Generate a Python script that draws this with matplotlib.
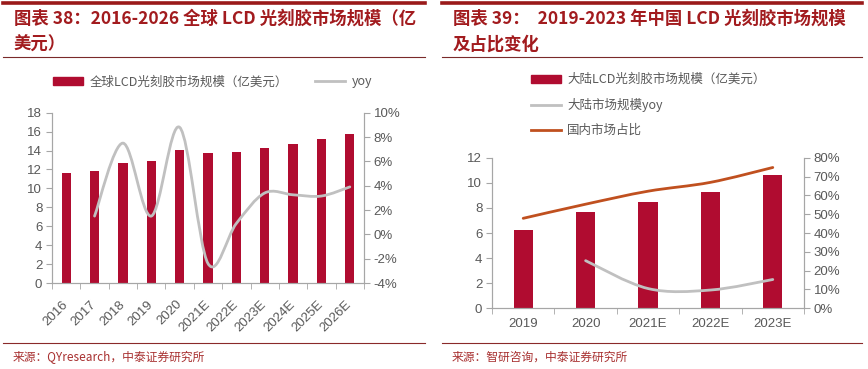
import numpy as np
import matplotlib
matplotlib.use("Agg")
import matplotlib.pyplot as plt
from matplotlib.path import Path
from matplotlib.patches import PathPatch, Rectangle
from matplotlib.lines import Line2D
from matplotlib.ticker import FuncFormatter

plt.rcParams['font.family'] = ['Noto Sans CJK SC', 'DejaVu Sans']

# ============== data ==============
years_global = ['2016', '2017', '2018', '2019', '2020', '2021E', '2022E',
                '2023E', '2024E', '2025E', '2026E']
market_global = [11.6, 11.8, 12.7, 12.9, 14.05, 13.7, 13.8, 14.3, 14.7, 15.2, 15.8]
yoy_global = [np.nan, 1.5, 7.5, 1.5, 8.8, -2.4, 0.9, 3.4, 3.25, 3.15, 3.9]   # %

years_cn = ['2019', '2020', '2021E', '2022E', '2023E']
market_cn = [6.2, 7.7, 8.47, 9.24, 10.62]
yoy_cn = [np.nan, 25.3, 10.5, 9.7, 15.3]     # %
share_cn = [47.8, 55.3, 62.2, 66.9, 74.8]    # %

# ============== style ==============
BAR = '#B00C30'
GRAY = '#C0C0C0'
ORANGE = '#C0501F'
DARKRED = '#A21B1E'
TICK = '#595959'
AXIS = '#A6A6A6'
W, H = 868, 369


def fx(px):
    return px / W


def fy(py):
    return 1 - py / H


def smooth_line(ax, x, y, color, lw):
    # Excel-like smoothed line (Catmull-Rom via cubic Bezier)
    pts = [(xi, yi) for xi, yi in zip(x, y) if not np.isnan(yi)]
    p = np.array(pts, dtype=float)
    n = len(p)
    verts = [p[0]]
    codes = [Path.MOVETO]
    for i in range(n - 1):
        p0 = p[i - 1] if i > 0 else p[i]
        p3 = p[i + 2] if i + 2 < n else p[i + 1]
        c1 = p[i] + (p[i + 1] - p0) / 6
        c2 = p[i + 1] - (p3 - p[i]) / 6
        verts += [c1, c2, p[i + 1]]
        codes += [Path.CURVE4] * 3
    patch = PathPatch(Path(verts, codes), facecolor='none', edgecolor=color,
                      lw=lw, capstyle='round', joinstyle='round')
    ax.add_patch(patch)


def style_axes(ax, ax2, n):
    for a in (ax, ax2):
        a.spines['top'].set_visible(False)
        for s in ('left', 'right', 'bottom'):
            a.spines[s].set_color(AXIS)
            a.spines[s].set_linewidth(0.8)
    ax.set_xlim(-0.5, n - 0.5)
    ax.tick_params(axis='y', direction='out', length=4, color=AXIS,
                   labelsize=9.5, labelcolor=TICK, pad=3)
    ax2.tick_params(axis='y', direction='out', length=4, color=AXIS,
                    labelsize=9.5, labelcolor=TICK, pad=3)
    ax.set_xticks(np.arange(-0.5, n, 1.0), minor=True)
    ax.tick_params(axis='x', which='minor', direction='out', length=4, color=AXIS)
    ax.tick_params(axis='x', which='major', length=0, labelsize=9.5, labelcolor=TICK)
    for lab in ax.get_yticklabels() + ax2.get_yticklabels():
        lab.set_family('Liberation Sans')


fig = plt.figure(figsize=(W / 100, H / 100), dpi=100)

# ============== left panel ==============
ax1 = fig.add_axes([fx(52), fy(283), fx(364 - 52), fy(112.7) - fy(283)])
x1 = np.arange(len(years_global))
ax1.bar(x1, market_global, width=0.33, color=BAR, zorder=2)
ax1.set_ylim(0, 18)
ax1.set_yticks(np.arange(0, 19, 2))
ax1b = ax1.twinx()
ax1b.set_ylim(-4, 10)
ax1b.set_yticks(np.arange(-4, 11, 2))
ax1b.yaxis.set_major_formatter(FuncFormatter(lambda v, p: f'{v:.0f}%'))
smooth_line(ax1b, x1, yoy_global, GRAY, 2.0)
style_axes(ax1, ax1b, len(years_global))
ax1.set_xticks(x1)
ax1.set_xticklabels(years_global, rotation=45, ha='right', va='center',
                    rotation_mode='anchor', family='Liberation Sans')
ax1.tick_params(axis='x', which='major', pad=14)

h_bar1 = Rectangle((0, 0), 1, 1, color=BAR)
h_gray = Line2D([], [], color=GRAY, lw=2.0)
fig.legend([h_bar1, h_gray], ['全球LCD光刻胶市场规模（亿美元）', 'yoy'],
           loc='center left', bbox_to_anchor=(fx(53), fy(82)), ncol=2,
           frameon=False, fontsize=9, handlelength=2.4, handleheight=0.6,
           handletextpad=0.5, columnspacing=2.2, borderpad=0, borderaxespad=0,
           labelcolor=TICK)

# ============== right panel ==============
ax2 = fig.add_axes([fx(492), fy(308.3), fx(804 - 492), fy(157.7) - fy(308.3)])
x2 = np.arange(len(years_cn))
ax2.bar(x2, market_cn, width=0.31, color=BAR, zorder=2)
ax2.set_ylim(0, 12)
ax2.set_yticks(np.arange(0, 13, 2))
ax2b = ax2.twinx()
ax2b.set_ylim(0, 80)
ax2b.set_yticks(np.arange(0, 81, 10))
ax2b.yaxis.set_major_formatter(FuncFormatter(lambda v, p: f'{v:.0f}%'))
smooth_line(ax2b, x2, yoy_cn, GRAY, 2.0)
smooth_line(ax2b, x2, share_cn, ORANGE, 2.0)
style_axes(ax2, ax2b, len(years_cn))
ax2.set_xticks(x2)
ax2.set_xticklabels(years_cn, family='Liberation Sans')
ax2.tick_params(axis='x', which='major', pad=7)

h_orange = Line2D([], [], color=ORANGE, lw=2.0)
fig.legend([h_bar1, h_gray, h_orange],
           ['大陆LCD光刻胶市场规模（亿美元）', '大陆市场规模yoy', '国内市场占比'],
           loc='upper left', bbox_to_anchor=(fx(531), fy(73)), ncol=1,
           frameon=False, fontsize=9, handlelength=2.4, handleheight=0.6,
           handletextpad=0.5, labelspacing=0.95, borderpad=0, borderaxespad=0,
           labelcolor=TICK)

# ============== titles, rules, sources ==============
for x0, x1_ in ((3, 425), (442, 862)):
    fig.add_artist(Line2D([fx(x0), fx(x1_)], [fy(3), fy(3)], color='#9A1A1A', lw=2.6))
    fig.add_artist(Line2D([fx(x0), fx(x1_)], [fy(56.5), fy(56.5)], color='#7A2A2A', lw=0.8))
    fig.add_artist(Line2D([fx(x0), fx(x1_)], [fy(343), fy(343)], color='#8A2A2A', lw=0.8))

title_kw = dict(fontsize=12.5, fontweight='bold', color=DARKRED, va='center', ha='left')
fig.text(fx(14), fy(19), '图表 38：2016-2026 全球 LCD 光刻胶市场规模（亿', **title_kw)
fig.text(fx(14), fy(45), '美元）', **title_kw)
fig.text(fx(453), fy(19), '图表 39：  2019-2023 年中国 LCD 光刻胶市场规模', **title_kw)
fig.text(fx(453), fy(45), '及占比变化', **title_kw)

src_kw = dict(fontsize=8.5, color='#A83030', va='center', ha='left')
fig.text(fx(13), fy(357), '来源：QYresearch，中泰证券研究所', **src_kw)
fig.text(fx(452), fy(357), '来源：智研咨询，中泰证券研究所', **src_kw)

fig.savefig('out.png', dpi=100, facecolor='white')
